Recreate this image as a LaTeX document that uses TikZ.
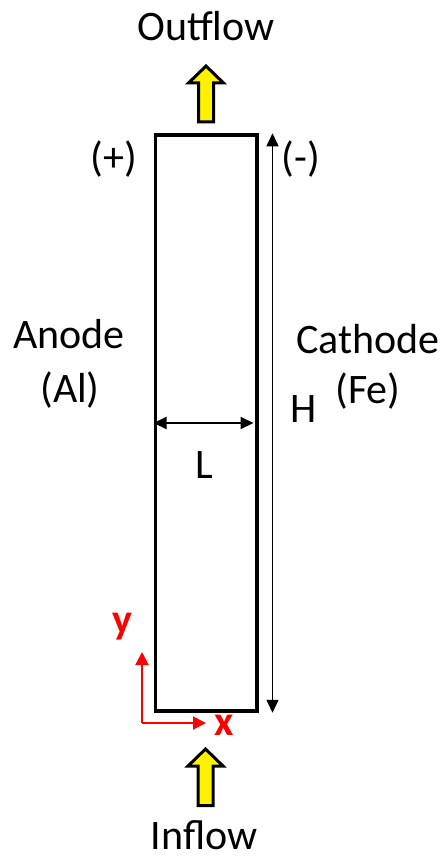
\documentclass[tikz,border=0pt]{standalone}
\usepackage{fontspec}
\setmainfont{Carlito}
\usetikzlibrary{arrows.meta, positioning}

\begin{document}
\begin{tikzpicture}[
  x=1pt, y=-1pt,
  lbl/.style={font=\fontsize{42}{48}\selectfont, anchor=base, inner sep=0pt},
  axlbl/.style={lbl, text=red, font=\fontsize{42}{48}\selectfont\bfseries},
  wall/.style={draw, line width=3.5pt, inner sep=0pt},
  dim/.style={{Triangle[length=13pt,width=12pt]}-{Triangle[length=13pt,width=12pt]}},
  axis/.style={-{Triangle[length=13pt,width=13pt]}, red, line width=2pt},
  flow/.style={draw, fill=yellow, line width=3pt, line join=miter}
]
\useasboundingbox (0,0) rectangle (446,856);

% channel
\node[wall, minimum width=101.5pt, minimum height=576pt] (cell) at (206,423) {};

% flow arrows
\draw[flow] (206,66) -- ++(17.5,17) -- ++(-10,0) -- ++(0,39) -- ++(-15,0)
  -- ++(0,-39) -- ++(-10,0) -- cycle;
\draw[flow] (205.5,749) -- ++(17.5,17) -- ++(-10,0) -- ++(0,39.5) -- ++(-15,0)
  -- ++(0,-39.5) -- ++(-10,0) -- cycle;
\node[lbl] (outflow) at (206,41) {Outflow};
\node[lbl] (inflow)  at (204,849) {Inflow};

% electrodes
\node[lbl] (plus)    at (114,171) {(+)};
\node[lbl] (minus)   at (301,171) {(-)};
\node[lbl] (anode)   at (69,348)  {Anode};
\node[lbl] (al)      at (70,402)  {(Al)};
\node[lbl] (cathode) at (368,353) {Cathode};
\node[lbl] (fe)      at (368,403) {(Fe)};

% dimensions
\draw[dim, line width=2pt, shorten >=5pt] (cell.west) -- (cell.east);
\draw[dim, line width=1.5pt] ([xshift=14pt]cell.north east) -- ([xshift=14pt]cell.south east);
\node[lbl] (H) at (304,422) {H};
\node[lbl] (L) at (204,478) {L};

% axes
\coordinate (origin) at (142,723);
\coordinate (ytip) at (142,652);
\coordinate (xtip) at (206,723);
\draw[axis] (origin) -- (ytip);
\draw[axis] (origin) -- (xtip);
\node[axlbl] (ylbl) at (122,633) {y};
\node[axlbl] (xlbl) at (224,735) {x};
\end{tikzpicture}
\end{document}
